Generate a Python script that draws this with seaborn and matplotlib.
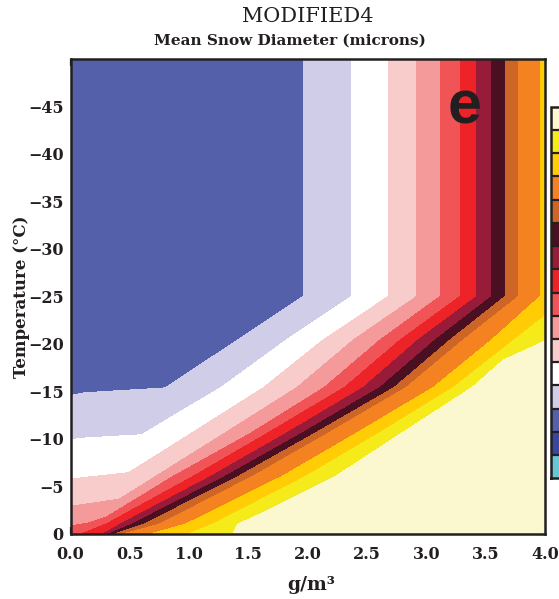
import numpy as np
import matplotlib
matplotlib.use("Agg")
import matplotlib.pyplot as plt
import seaborn as sns
from matplotlib.colors import ListedColormap, BoundaryNorm

sns.set_theme(style="white")
plt.rcParams['font.family'] = ['DejaVu Serif', 'DejaVu Sans']

# ---------------- text ----------------
TITLE = "MODIFIED4"
SUBTITLE = "Mean Snow Diameter (microns)"
PANEL = "e"
X_LABEL = "g/m³"
Y_LABEL = "Temperature (°C)"

x_ticks = [0.0, 0.5, 1.0, 1.5, 2.0, 2.5, 3.0, 3.5, 4.0]
y_ticks = [0, -5, -10, -15, -20, -25, -30, -35, -40, -45]

# 16 colour classes, lowest to highest
band_colors = ["#66C6D6", "#3A47A0", "#5560AB", "#CFCDE8", "#FFFFFF",
               "#F9CCCC", "#F59A9A", "#F05457", "#EE2328", "#981B3A",
               "#4A1022", "#CD6527", "#F58220", "#FFCC06", "#F5EB1A",
               "#FBF7CE"]

# ---------------- contour boundaries ----------------
# each boundary: x (g/m3) and T (degC) points, between class k-1 and class k
b03_x = [-4.2, -0.5, 0.00, 0.12, 0.80, 1.963, 1.963]
b03_t = [1.0, -13.5, -14.55, -14.85, -15.35, -25.0, -50.0]
b04_x = [-3.9, -0.5, 0.00, 0.10, 0.60, 1.27, 1.82, 2.371, 2.371]
b04_t = [1.0, -9.3, -9.88, -10.05, -10.4, -15.4, -20.4, -25.0, -50.0]
b05_x = [-3.6, -0.5, 0.00, 0.15, 0.49, 1.01, 1.63, 2.13, 2.68, 2.68]
b05_t = [1.0, -5.2, -5.73, -5.95, -6.4, -10.5, -15.4, -20.4, -25.0, -50.0]
b06_x = [-3.3, -0.5, 0.00, 0.41, 0.715, 1.29, 1.91, 2.385, 2.92, 2.92]
b06_t = [1.0, -2.3, -2.87, -3.6, -6.0, -10.5, -15.4, -20.4, -25.0, -50.0]
b07_x = [-3.0, -0.5, 0.00, 0.15, 0.30, 0.86, 1.51, 2.14, 2.61, 3.117, 3.117]
b07_t = [1.0, -0.4, -0.8, -1.1, -1.7, -6.0, -10.5, -15.4, -20.4, -25.0, -50.0]
b08_x = [0.10, 0.30, 1.03, 1.65, 2.31, 2.78, 3.285, 3.285]
b08_t = [0.0, -1.0, -6.0, -10.5, -15.4, -20.4, -25.0, -50.0]
b09_x = [0.28, 0.42, 1.18, 1.81, 2.47, 2.93, 3.426, 3.426]
b09_t = [0.0, -1.0, -6.0, -10.5, -15.4, -20.4, -25.0, -50.0]
b10_x = [0.33, 0.52, 1.30, 1.94, 2.61, 3.075, 3.553, 3.553]
b10_t = [0.0, -1.0, -6.0, -10.5, -15.4, -20.4, -25.0, -50.0]
b11_x = [0.38, 0.62, 1.41, 2.05, 2.73, 3.20, 3.665, 3.665]
b11_t = [0.0, -1.0, -6.0, -10.5, -15.4, -20.4, -25.0, -50.0]
b12_x = [0.45, 0.75, 1.53, 2.16, 2.83, 3.31, 3.778, 3.778]
b12_t = [0.0, -1.0, -6.0, -10.5, -15.4, -20.4, -25.0, -50.0]
b13_x = [0.68, 0.97, 1.78, 2.40, 3.06, 3.55, 3.96, 3.96]
b13_t = [0.0, -1.0, -6.0, -10.5, -15.4, -20.4, -25.0, -50.0]
b14_x = [1.00, 1.20, 1.98, 2.59, 3.23, 3.74, 4.21, 4.21]
b14_t = [0.0, -1.0, -6.0, -10.5, -15.4, -20.4, -25.0, -50.0]
b15_x = [1.37, 1.41, 1.63, 2.23, 2.78, 3.385, 3.65, 4.00, 4.50, 4.50]
b15_t = [0.0, -1.0, -2.26, -6.0, -10.5, -15.4, -18.3, -20.3, -25.0, -50.0]

boundaries = [(b03_x, b03_t), (b04_x, b04_t), (b05_x, b05_t), (b06_x, b06_t),
              (b07_x, b07_t), (b08_x, b08_t), (b09_x, b09_t), (b10_x, b10_t),
              (b11_x, b11_t), (b12_x, b12_t), (b13_x, b13_t), (b14_x, b14_t),
              (b15_x, b15_t)]
boundary_values = np.arange(2.5, 15.0, 1.0)

# ---------------- build field on a grid ----------------
xg = np.linspace(0.0, 4.0, 801)
tg = np.linspace(0.0, -50.0, 1001)
Z = np.empty((tg.size, xg.size))
for i, t in enumerate(tg):
    xs = []
    for bx, bt in boundaries:
        bx = np.asarray(bx, float)
        bt = np.asarray(bt, float)
        o = np.argsort(bt)
        xs.append(np.interp(t, bt[o], bx[o]))
    xs = np.maximum.accumulate(np.array(xs) + np.arange(len(xs)) * 1e-6)
    xp = np.concatenate([[xs[0] - 0.3], xs, [xs[-1] + 0.3]])
    fp = np.concatenate([[2.0], boundary_values, [15.0]])
    Z[i] = np.interp(xg, xp, fp)

# ---------------- figure ----------------
fig = plt.figure(figsize=(5.59, 5.99), dpi=100)
ax = fig.add_axes([70.5 / 559, 1 - 533.6 / 599, 474.5 / 559, 474.6 / 599])

cmap = ListedColormap(band_colors)
levels = np.arange(-0.5, 16.5, 1.0)
norm = BoundaryNorm(levels, cmap.N)
cs = ax.contourf(xg, tg, Z, levels=levels, cmap=cmap, norm=norm)

ax.set_xlim(0, 4)
ax.set_ylim(0, -50)
ax.set_xticks(x_ticks)
ax.set_xticklabels([f"{v:.1f}" for v in x_ticks])
ax.set_yticks(y_ticks)
ax.set_yticklabels([("\u2212" + str(-v)) if v < 0 else str(v) for v in y_ticks])

for s in ax.spines.values():
    s.set_linewidth(1.8)
    s.set_color("#231f20")
    s.set_visible(True)
ax.tick_params(direction="in", length=5, width=1.6, top=True, right=True,
               bottom=True, left=True, color="#231f20")
ax.tick_params(axis="x", pad=9, labelsize=11.5)
ax.tick_params(axis="y", pad=5, labelsize=11.5)
for lab in ax.get_xticklabels() + ax.get_yticklabels():
    lab.set_fontweight("bold")
    lab.set_color("#231f20")

ax.set_xlabel(X_LABEL, fontsize=13.5, fontweight="bold", color="#231f20", va="center")
ax.xaxis.set_label_coords(0.507, -0.108)
ax.set_ylabel(Y_LABEL, fontsize=12, fontweight="bold", color="#231f20", va="center")
ax.yaxis.set_label_coords(-0.104, 0.5)

ax.text(0.831, 0.897, PANEL, transform=ax.transAxes, fontsize=44,
        fontweight="bold", family=["Liberation Sans", "DejaVu Sans"],
        ha="center", va="center", color="#231f20")

fig.text(308 / 559, 1 - 16.5 / 599, TITLE, ha="center", va="center",
         fontsize=15, color="#231f20")
fig.text(290 / 559, 1 - 41 / 599, SUBTITLE, ha="center", va="center",
         fontsize=11, fontweight="bold", color="#231f20")

# colour bar (cut at the figure's right edge, as in the original)
cax = fig.add_axes([551 / 559, 1 - 478.3 / 599, 30 / 559, 371.6 / 599])
cb = fig.colorbar(cs, cax=cax, ticks=[], drawedges=True)
cb.outline.set_linewidth(1.8)
cb.outline.set_edgecolor("#231f20")
cb.dividers.set_color("#231f20")
cb.dividers.set_linewidth(1.6)

fig.savefig("out.png", dpi=100)
